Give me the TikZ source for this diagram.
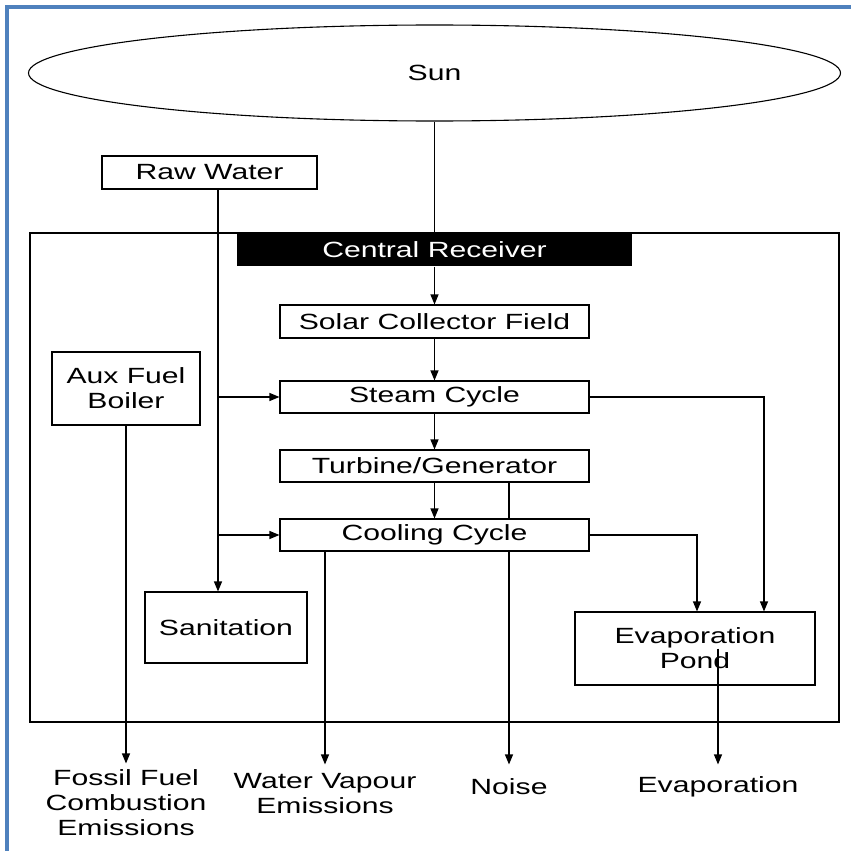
\documentclass[tikz,border=0pt]{standalone}
\usepackage{fontspec}
\setmainfont[FakeStretch=1.37]{Liberation Sans}
\usetikzlibrary{shapes.geometric,arrows.meta}
\definecolor{frameblue}{RGB}{79,129,189}

\begin{document}
\begin{tikzpicture}[x=1pt, y=-1pt, line width=1.1pt,
  >={Triangle[length=10pt,width=8pt]},
  every node/.append style={font=\fontsize{22}{25}\selectfont},
  box/.style={draw, fill=white, inner sep=0pt, align=center},
  outlabel/.style={inner sep=0pt, align=center}]

% Moldura
\useasboundingbox (0,0) rectangle (851,851);
\draw[frameblue, line width=4pt] (7,851) -- (7,7) -- (851,7);

% Sol
\node[ellipse, draw, inner sep=0pt, minimum width=812pt, minimum height=96pt] (sun) at (434.5,73) {Sun};

% Agua bruta
\node[box, minimum width=215pt, minimum height=33pt] (raw) at (209.5,172.5) {Raw Water};

% Limite da central
\node[draw, inner sep=0pt, minimum width=809pt, minimum height=489pt] (plant) at (434.5,477.5) {};

% Recetor central
\node[fill=black, text=white, inner sep=0pt, minimum width=395pt, minimum height=33pt] (recv) at (434.5,249.5) {Central Receiver};

% Coluna principal
\node[box, minimum width=309pt, minimum height=33pt] (solar) at (434.5,321.5) {Solar Collector Field};
\node[box, minimum width=309pt, minimum height=32pt] (steam) at (434.5,397) {Steam Cycle};
\node[box, minimum width=309pt, minimum height=32pt] (turb) at (434.5,466) {Turbine/Generator};
\node[box, minimum width=309pt, minimum height=32pt] (cool) at (434.5,535) {Cooling Cycle};

% Caixas laterais
\node[box, minimum width=148pt, minimum height=73pt] (aux) at (126,388.5) {Aux Fuel\\Boiler};
\node[box, minimum width=162pt, minimum height=71pt] (sanit) at (226,627.5) {Sanitation};
\node[box, minimum width=240pt, minimum height=73pt] (pond) at (695,648.5) {Evaporation\\Pond};

% Saidas
\node[outlabel, minimum height=77pt] (fossil) at (126,802.5) {Fossil Fuel\\Combustion\\Emissions};
\node[outlabel, minimum height=57pt] (water) at (325,793.5) {Water Vapour\\Emissions};
\node[outlabel, minimum height=44pt] (noise) at (509,787) {Noise};
\node[outlabel, minimum height=44pt] (evap) at (718,787) {Evaporation};

% Setas da coluna
\draw (sun.south) -- (recv.north);
\draw[->] (recv.south) -- (solar.north);
\draw[->] (solar.south) -- (steam.north);
\draw[->] (steam.south) -- (turb.north);
\draw[->] (turb.south) -- (cool.north);

% Agua bruta para os ciclos
\coordinate (rw) at (218,0);
\draw[->] (raw.south -| rw) -- (sanit.north -| rw);
\draw[->] (steam.west -| rw) -- (steam.west);
\draw[->] (cool.west -| rw) -- (cool.west);

% Para a lagoa
\draw[->] (steam.east) -| ([xshift=69pt]pond.north);
\draw[->] (cool.east) -| ([xshift=2pt]pond.north);

% Emissoes
\draw[->] (aux.south) -- (fossil.north);
\draw[->] (cool.south -| water.north) -- (water.north);
\draw ([xshift=74.5pt]turb.south) -- ([xshift=74.5pt]cool.north);
\draw[->] ([xshift=74.5pt]cool.south) -- (noise.north);
\draw[->] (evap.north |- pond.center) -- (evap.north);

\end{tikzpicture}
\end{document}
